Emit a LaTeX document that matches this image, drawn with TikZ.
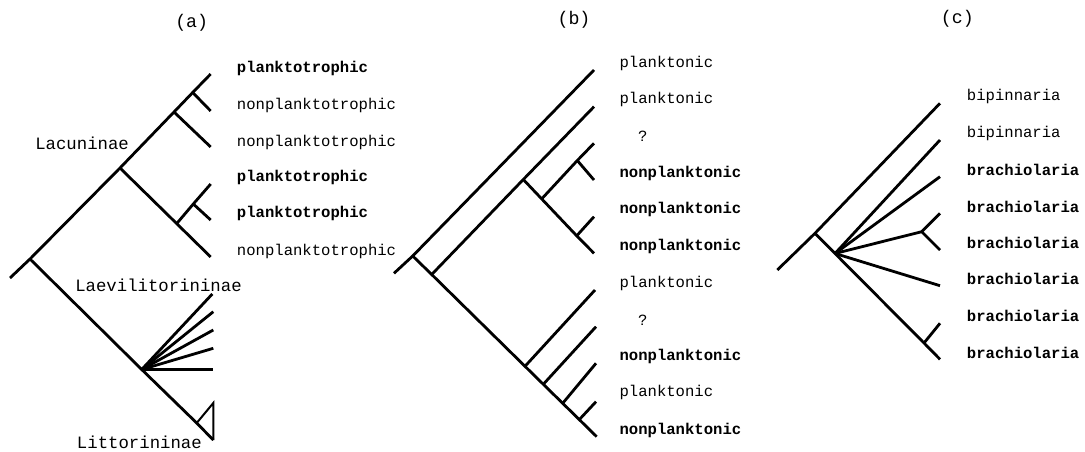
\documentclass[tikz,border=0pt]{standalone}
\usepackage{fontspec}
\setmonofont{Liberation Mono}
\begin{document}
\begin{tikzpicture}[x=0.75pt,y=-0.75pt,
  br/.style={line width=2.1pt,black},
  lab/.style={anchor=west,inner sep=0pt,font=\ttfamily\fontsize{11.7}{13}\selectfont},
  blab/.style={lab,font=\ttfamily\bfseries\fontsize{11.7}{13}\selectfont},
  clade/.style={anchor=west,inner sep=0pt,font=\ttfamily\fontsize{13}{15}\selectfont},
  ttl/.style={inner sep=0pt,font=\ttfamily\fontsize{13.7}{16}\selectfont}]
\path[use as bounding box,fill=white] (0,0) rectangle (1085,452);

% ---------------- (a) ----------------
\node[ttl] (ta) at (191.7,22.7) {(a)};
\coordinate (a0) at (10,278);
\coordinate (a1) at (30,259);
\coordinate (a2) at (120,168);
\coordinate (a3) at (174,112);
\coordinate (a4) at (192.7,92.5);
\coordinate (aL1) at (210.7,74);
\coordinate (aL2) at (210.7,111);
\coordinate (aL3) at (210.7,147);
\coordinate (a5) at (176.7,223.6);
\coordinate (a6) at (193.3,204);
\coordinate (aL4) at (210.7,184);
\coordinate (aL5) at (210.7,220);
\coordinate (aL6) at (210.7,257);
\coordinate (a7) at (141.7,369.5);
\coordinate (a8) at (196.7,423);
\coordinate (aLt) at (213.3,440);
\coordinate (aTt) at (213.3,403);
\coordinate (aF1) at (212.3,294);
\coordinate (aF2) at (213.3,311.7);
\coordinate (aF3) at (213.3,330);
\coordinate (aF4) at (213.3,348.3);
\coordinate (aF5) at (213.3,369.5);
\draw[br] (a0) -- (a1) -- (a2) -- (a3) -- (a4) -- (aL1);
\draw[br] (a4) -- (aL2);
\draw[br] (a3) -- (aL3);
\draw[br] (a2) -- (a5) -- (aL6);
\draw[br] (a5) -- (a6) -- (aL4);
\draw[br] (a6) -- (aL5);
\draw[br] (a1) -- (a7) -- (a8) -- (aLt);
\draw[line width=1.5pt,line join=miter] (a8) -- (aTt) -- (aLt);
\foreach \i in {1,...,5} \draw[br] (a7) -- (aF\i);
\node[blab] (al1) at (236.7,68) {planktotrophic};
\node[lab]  (al2) at (236.7,105) {nonplanktotrophic};
\node[lab]  (al3) at (236.7,142) {nonplanktotrophic};
\node[blab] (al4) at (236.7,177) {planktotrophic};
\node[blab] (al5) at (236.7,213) {planktotrophic};
\node[lab]  (al6) at (236.7,251) {nonplanktotrophic};
\node[clade] (cL) at (35,143) {Lacuninae};
\node[clade] (cLa) at (75,285.7) {Laevilitorininae};
\node[clade] (cLi) at (76.7,442.7) {Littorininae};

% ---------------- (b) ----------------
\node[ttl] (tb) at (574,20) {(b)};
\coordinate (b0) at (394,273.3);
\coordinate (b1) at (412.7,256);
\coordinate (bL1) at (594,70);
\coordinate (b2) at (431.7,274.5);
\coordinate (bL2) at (594,106.7);
\coordinate (b3) at (523.3,179.5);
\coordinate (b4) at (541.7,198.9);
\coordinate (bL3) at (594,143.3);
\coordinate (b5) at (577.3,160.5);
\coordinate (bL4) at (594,180);
\coordinate (b6) at (576.7,235.8);
\coordinate (bL5) at (594,216.7);
\coordinate (bL6) at (594,253.3);
\coordinate (b7) at (525,366.3);
\coordinate (bL7) at (595,290);
\coordinate (b8) at (543.3,384.3);
\coordinate (bL8) at (596,326.7);
\coordinate (b9) at (562.7,403.3);
\coordinate (bL9) at (596,363.3);
\coordinate (b10) at (579.3,419.6);
\coordinate (bL10) at (596,401.7);
\coordinate (bL11) at (596.7,436.7);
\draw[br] (b0) -- (b1) -- (bL1);
\draw[br] (b1) -- (b2) -- (b7) -- (b8) -- (b9) -- (b10) -- (bL11);
\draw[br] (b2) -- (b3) -- (bL2);
\draw[br] (b3) -- (b4) -- (b6) -- (bL6);
\draw[br] (b4) -- (b5) -- (bL3);
\draw[br] (b5) -- (bL4);
\draw[br] (b6) -- (bL5);
\draw[br] (b7) -- (bL7);
\draw[br] (b8) -- (bL8);
\draw[br] (b9) -- (bL9);
\draw[br] (b10) -- (bL10);
\node[lab]  (bl1) at (619.3,63.3) {planktonic};
\node[lab]  (bl2) at (619.3,99.3) {planktonic};
\node[lab,anchor=center] (bl3) at (642.7,136.7) {?};
\node[blab] (bl4) at (619.3,173.3) {nonplanktonic};
\node[blab] (bl5) at (619.3,209.3) {nonplanktonic};
\node[blab] (bl6) at (619.3,246.7) {nonplanktonic};
\node[lab]  (bl7) at (619.3,283.3) {planktonic};
\node[lab,anchor=center] (bl8) at (642.7,320) {?};
\node[blab] (bl9) at (619.3,356.7) {nonplanktonic};
\node[lab]  (bl10) at (619.3,392.7) {planktonic};
\node[blab] (bl11) at (619.3,430) {nonplanktonic};

% ---------------- (c) ----------------
\node[ttl] (tc) at (957.3,18.3) {(c)};
\coordinate (c0) at (777.3,270);
\coordinate (c1) at (815,233.3);
\coordinate (cL1) at (940,103.3);
\coordinate (c2) at (835,253.5);
\coordinate (cL2) at (940,140);
\coordinate (cL3) at (940,176.7);
\coordinate (cY) at (921.7,231.7);
\coordinate (cL4) at (940,213.3);
\coordinate (cL5) at (940,250);
\coordinate (cL6) at (940,285.7);
\coordinate (c3) at (924,343);
\coordinate (cL7) at (940,323.3);
\coordinate (cL8) at (940,359.3);
\draw[br] (c0) -- (c1) -- (cL1);
\draw[br] (c1) -- (c2) -- (c3) -- (cL8);
\draw[br] (c2) -- (cL2);
\draw[br] (c2) -- (cL3);
\draw[br] (c2) -- (cY) -- (cL4);
\draw[br] (cY) -- (cL5);
\draw[br] (c2) -- (cL6);
\draw[br] (c3) -- (cL7);
\node[lab]  (cl1) at (966.7,96.7) {bipinnaria};
\node[lab]  (cl2) at (966.7,133.3) {bipinnaria};
\node[blab] (cl3) at (966.7,170) {brachiolaria};
\node[blab] (cl4) at (966.7,206.7) {brachiolaria};
\node[blab] (cl5) at (966.7,242.7) {brachiolaria};
\node[blab] (cl6) at (966.7,279.3) {brachiolaria};
\node[blab] (cl7) at (966.7,316) {brachiolaria};
\node[blab] (cl8) at (966.7,352.7) {brachiolaria};
\end{tikzpicture}
\end{document}
